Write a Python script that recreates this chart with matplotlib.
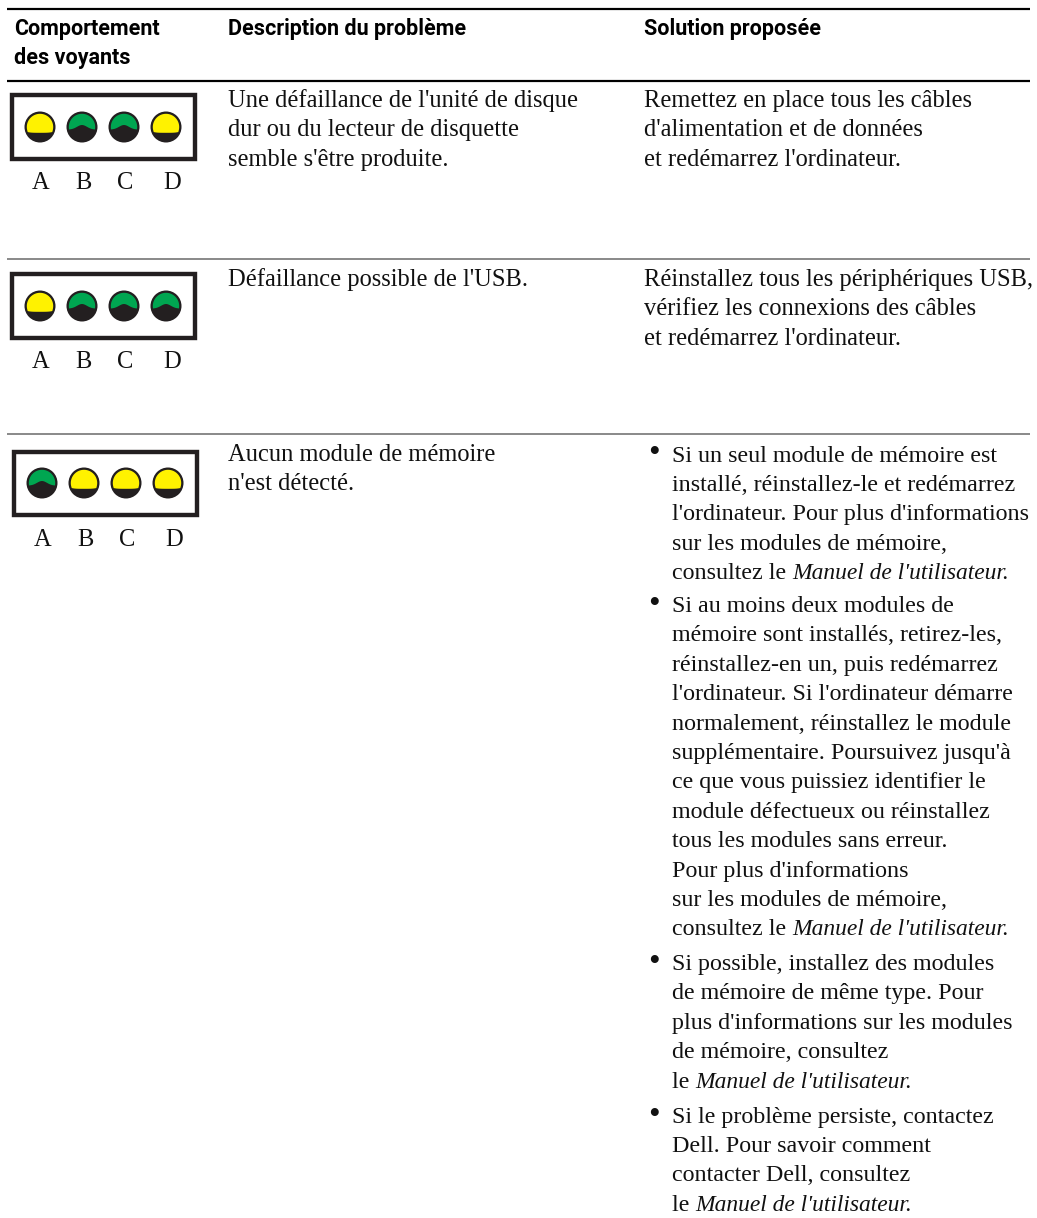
import matplotlib
matplotlib.use("Agg")
import matplotlib.pyplot as plt
import numpy as np
from matplotlib.patches import Circle, Rectangle, Polygon
from matplotlib import font_manager as fm

W, H = 1037, 1218
names = {f.name for f in fm.fontManager.ttflist}
HEAD = "Liberation Sans Narrow" if "Liberation Sans Narrow" in names else "Roboto"
BODY = "Liberation Serif"
FS = 17.65
FS_BULLET = 17.25
FS_IT = 16.9
HFS = 15.5

headers = [(14, 35, "Comportement"), (14, 64, "des voyants"),
           (228, 35, "Description du problème"), (644, 35, "Solution proposée")]
led_labels = ["A", "B", "C", "D"]
led_rows = [["y", "g", "g", "y"], ["y", "g", "g", "g"], ["g", "y", "y", "y"]]
descriptions = [
    (107, ["Une défaillance de l'unité de disque", "dur ou du lecteur de disquette", "semble s'être produite."]),
    (286, ["Défaillance possible de l'USB."]),
    (461, ["Aucun module de mémoire", "n'est détecté."]),
]
solutions = [
    (107, 644, ["Remettez en place tous les câbles", "d'alimentation et de données", "et redémarrez l'ordinateur."]),
    (286, 644, ["Réinstallez tous les périphériques USB,", "vérifiez les connexions des câbles", "et redémarrez l'ordinateur."]),
]
bullets = [
    (461.5, ["Si un seul module de mémoire est", "installé, réinstallez-le et redémarrez",
             "l'ordinateur. Pour plus d'informations", "sur les modules de mémoire,",
             "consultez le |Manuel de l'utilisateur.|"]),
    (612, ["Si au moins deux modules de", "mémoire sont installés, retirez-les,",
           "réinstallez-en un, puis redémarrez", "l'ordinateur. Si l'ordinateur démarre",
           "normalement, réinstallez le module", "supplémentaire. Poursuivez jusqu'à",
           "ce que vous puissiez identifier le", "module défectueux ou réinstallez",
           "tous les modules sans erreur.", "Pour plus d'informations",
           "sur les modules de mémoire,", "consultez le |Manuel de l'utilisateur.|"]),
    (970, ["Si possible, installez des modules", "de mémoire de même type. Pour",
           "plus d'informations sur les modules", "de mémoire, consultez",
           "le |Manuel de l'utilisateur.|"]),
    (1122.5, ["Si le problème persiste, contactez", "Dell. Pour savoir comment",
              "contacter Dell, consultez", "le |Manuel de l'utilisateur.|"]),
]

fig = plt.figure(figsize=(W / 100, H / 100), dpi=100)
ax = fig.add_axes([0, 0, 1, 1])
ax.set_xlim(0, W)
ax.set_ylim(H, 0)
ax.axis("off")
px = 0.72
LH = 29.4
DARK = "#231f20"
COL = {"y": "#fff200", "g": "#00a651"}


def rich(x, y, line, size=FS):
    r = fig.canvas.get_renderer()
    parts = line.split("|")
    for i, p in enumerate(parts):
        if not p:
            continue
        st = "italic" if i % 2 else "normal"
        fs = FS_IT if i % 2 else size
        ax.text(x, y, p, family=BODY, fontsize=fs, va="baseline", ha="left", style=st, color="#111111")
        a = ax.text(0, 0, p + "|", family=BODY, fontsize=fs, style=st)
        b = ax.text(0, 0, "|", family=BODY, fontsize=fs, style=st)
        w = a.get_window_extent(r).width - b.get_window_extent(r).width
        a.remove(); b.remove()
        x += w


def led(cx, cy, state):
    ax.add_patch(Circle((cx, cy), 15.5, fc=DARK, ec="none"))
    r = 13.2
    if state == "y":
        th = np.linspace(np.radians(-20), np.radians(200), 60)
        xs, ys = cx + r * np.cos(th), cy - r * np.sin(th)
        ex = np.linspace(xs[-1], xs[0], 20)
        ey = cy + 5.8 - 1.0 * np.abs((ex - cx) / r) ** 4
    else:
        th = np.linspace(np.radians(-8), np.radians(188), 60)
        xs, ys = cx + r * np.cos(th), cy - r * np.sin(th)
        ex = np.linspace(xs[-1], xs[0], 24)
        ey = cy + 2.6 - 4.6 * np.exp(-((ex - cx) / 7.0) ** 2)
    ax.add_patch(Polygon(np.c_[np.r_[xs, ex], np.r_[ys, ey]], closed=True, fc=COL[state], ec="none"))


# rules
ax.plot([7, 1030], [9, 9], color="black", lw=2.2 * px, solid_capstyle="butt")
ax.plot([7, 1030], [81, 81], color="black", lw=2.2 * px, solid_capstyle="butt")
for yy in (258.5, 434):
    ax.plot([7, 1030], [yy, yy], color="#808080", lw=1.8 * px, solid_capstyle="butt")

for x, y, s in headers:
    ax.text(x, y, s, family=[HEAD, "Roboto"], weight="bold", fontsize=HFS, va="baseline", color="black")

# indicator panels
panels = [(9.5, 93, 40, 127, 189), (9.5, 272, 40, 306, 368), (11.5, 449.5, 42, 483, 546)]
for (bx, by, cx0, cy, ly), states in zip(panels, led_rows):
    ax.add_patch(Rectangle((bx + 2.2, by + 2.2), 183.6, 63.6, fc="white", ec=DARK, lw=4.4 * px, joinstyle="miter"))
    for i, (st, lab) in enumerate(zip(states, led_labels)):
        cx = cx0 + 42 * i
        led(cx, cy, st)
        ax.text(cx + 1 + (i == 3) * 5, ly, lab, family=BODY, fontsize=FS, ha="center", va="baseline", color="#111111")

for y0, lines in descriptions:
    for k, s in enumerate(lines):
        rich(228, y0 + k * LH, s)
for y0, x, lines in solutions:
    for k, s in enumerate(lines):
        rich(x, y0 + k * LH, s)
for y0, lines in bullets:
    ax.text(654, y0 + 1, "•", family=BODY, fontsize=24, ha="center", va="baseline", color="#111111")
    for k, s in enumerate(lines):
        rich(672, y0 + k * LH, s, FS_BULLET)

fig.savefig("out.png", dpi=100, facecolor="white")
